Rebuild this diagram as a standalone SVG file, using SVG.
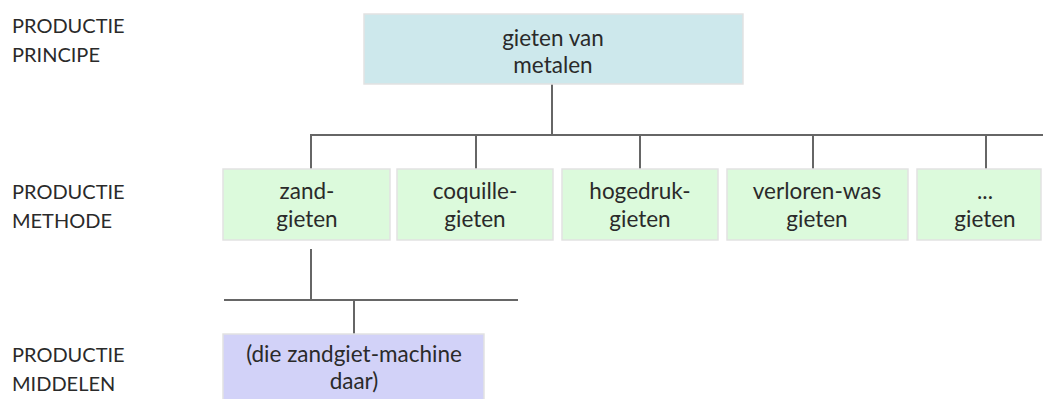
<svg xmlns="http://www.w3.org/2000/svg" width="1043" height="399" viewBox="0 0 1043 399">
<style>
text{font-family:Lato,"Open Sans","Liberation Sans",sans-serif;font-size:20px;fill:#2a2a2a}
.c{text-anchor:middle;font-size:22.5px}
.box{stroke:#e2e2e2;stroke-width:1.5}
.principe{fill:#cde8ec}
.methode{fill:#dcfadc}
.middel{fill:#d2d2f8}
.conn{stroke:#666;stroke-width:2;fill:none}
</style>
<rect width="1043" height="399" fill="#fff"/>
<g id="labels">
<text x="12" y="33">PRODUCTIE</text>
<text x="12" y="62">PRINCIPE</text>
<text x="12" y="199">PRODUCTIE</text>
<text x="12" y="228">METHODE</text>
<text x="12" y="362">PRODUCTIE</text>
<text x="12" y="391">MIDDELEN</text>
</g>
<g id="connectors">
<path class="conn" d="M552 84V135M310 135H1043M311 135V169M476 135V169M640 135V169M813 135V169M986 135V169"/>
<path class="conn" d="M311 249V300M224 300H518M354 300V334"/>
</g>
<g id="node-gieten">
<rect class="box principe" x="364" y="14" width="379" height="70"/>
<text class="c" x="553" y="46">gieten van</text>
<text class="c" x="553" y="73">metalen</text>
</g>
<g id="node-zand">
<rect class="box methode" x="223" y="169" width="167" height="71"/>
<text class="c" x="307" y="199">zand-</text>
<text class="c" x="307" y="227">gieten</text>
</g>
<g id="node-coquille">
<rect class="box methode" x="397" y="169" width="156" height="71"/>
<text class="c" x="475" y="199">coquille-</text>
<text class="c" x="475" y="227">gieten</text>
</g>
<g id="node-hogedruk">
<rect class="box methode" x="562" y="169" width="156" height="71"/>
<text class="c" x="640" y="199">hogedruk-</text>
<text class="c" x="640" y="227">gieten</text>
</g>
<g id="node-verloren">
<rect class="box methode" x="727" y="169" width="181" height="71"/>
<text class="c" x="817" y="199">verloren-was</text>
<text class="c" x="817" y="227">gieten</text>
</g>
<g id="node-overig">
<rect class="box methode" x="917" y="169" width="124" height="71"/>
<text class="c" x="985" y="199">...</text>
<text class="c" x="985" y="227">gieten</text>
</g>
<g id="node-machine">
<rect class="box middel" x="223" y="334" width="261" height="70"/>
<text class="c" x="354" y="362">(die zandgiet-machine</text>
<text class="c" x="354" y="389">daar)</text>
</g>
</svg>
